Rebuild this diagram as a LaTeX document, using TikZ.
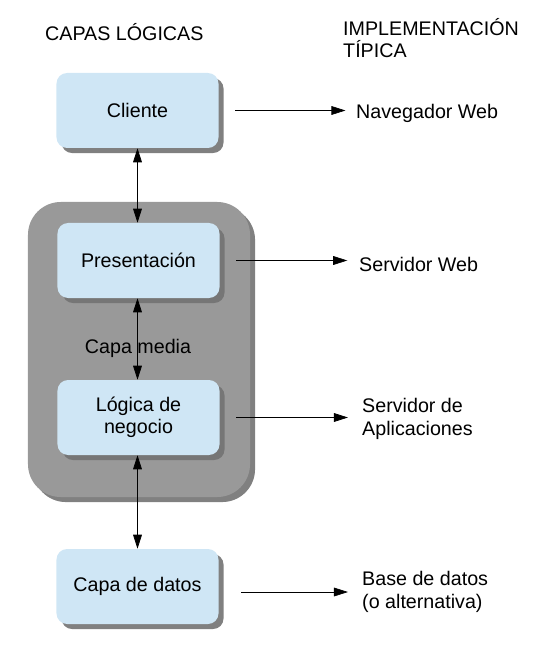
\documentclass[tikz,border=0pt]{standalone}
\usepackage{fontspec}
\setmainfont{Liberation Sans}
\usetikzlibrary{shadows,arrows.meta}

\definecolor{capaazul}{RGB}{207,230,245}
\definecolor{capagris}{RGB}{153,153,153}
\definecolor{sombra}{RGB}{128,128,128}
\definecolor{sombraosc}{RGB}{118,118,118}

\tikzset{
  capa/.style={rounded corners=9pt, fill=capaazul, minimum width=4.86cm,
    minimum height=2.25cm, align=center,
    drop shadow={shadow xshift=4.3pt, shadow yshift=-4.3pt, fill=#1, opacity=1}},
  capa/.default=sombra,
  punta/.tip={Triangle[length=12pt,width=7.5pt]},
  flecha/.style={-punta, line width=0.6pt},
  doble/.style={punta-punta, line width=0.6pt},
  impl/.style={anchor=west, inner sep=0pt, align=left}
}

\begin{document}
\begin{tikzpicture}[x=0.03cm, y=-0.03cm, font=\fontsize{16.8}{19}\selectfont]
        \useasboundingbox (0,0) rectangle (551,656);
        % titles
        \node[impl] (titcapas) at (45,32) {CAPAS LÓGICAS};
        \node[impl] (titimpl) at (343,38) {IMPLEMENTACIÓN\\TÍPICA};
        % grey middle layer
        \node[rounded corners=28pt, fill=capagris, minimum width=6.66cm, minimum height=8.85cm,
          drop shadow={shadow xshift=4.3pt, shadow yshift=-4.3pt, fill=sombra, opacity=1}]
          (media) at (139,349.5) {};
        % layers
        \node[capa] (cliente) at (137.5,110.5) {Cliente};
        \node[capa=sombraosc] (presentacion) at (138.5,260.5) {Presentación};
        \node[capa=sombraosc] (logica) at (138.5,417.5) {Lógica de\\negocio};
        \node[capa] (datos) at (137.5,586.5) {Capa de datos};
        \node (medialbl) at (138,348) {Capa media};
        % implementations
        \node[impl] (navweb) at (356,113) {Navegador Web};
        \node[impl] (servweb) at (359,264) {Servidor Web};
        \node[impl] (servapl) at (362,419) {Servidor de\\Aplicaciones};
        \node[impl] (basedatos) at (362,592) {Base de datos\\(o alternativa)};
        % vertical connectors
        \draw[doble] (cliente.south) -- (presentacion.north -| cliente.south);
        \draw[doble] (presentacion.south -| cliente.south) -- (logica.north -| cliente.south);
        \draw[doble] (logica.south -| cliente.south) -- (datos.north);
        % horizontal connectors
        \draw[flecha, shorten >=9pt] ([xshift=14pt]cliente.east) -- (navweb.west |- cliente.east);
        \draw[flecha, shorten >=10pt] ([xshift=14pt]presentacion.east) -- (servweb.west |- presentacion.east);
        \draw[flecha, shorten >=12pt] ([xshift=14pt]logica.east) -- (servapl.west |- logica.east);
        \draw[flecha, shorten >=12pt] ([xshift=19pt]datos.east |- basedatos.west) -- (basedatos.west);
\end{tikzpicture}
\end{document}
